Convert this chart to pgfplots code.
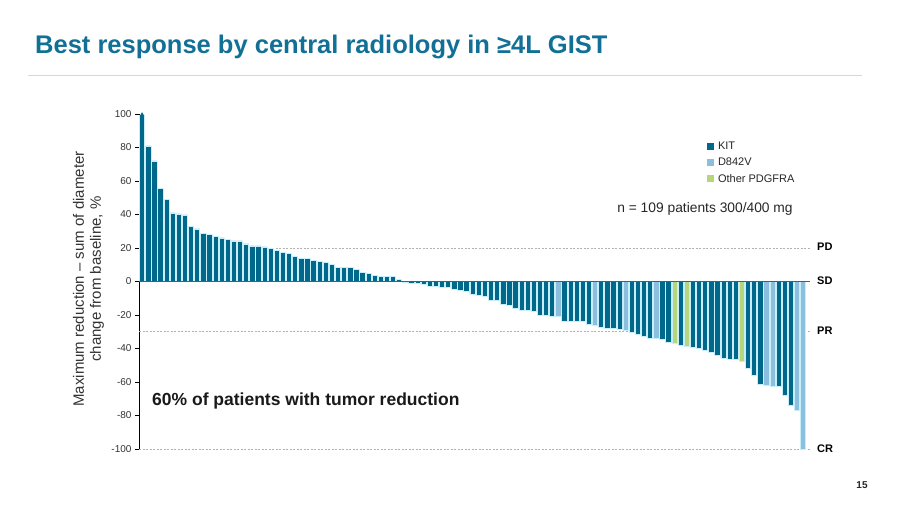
\documentclass[border=0pt]{standalone}
\usepackage{pgfplots}
\usepackage{pgfplotstable}
\pgfplotsset{compat=1.18}
\usepackage{fontspec}
\setmainfont{Liberation Sans}
\definecolor{kit}{RGB}{0,104,139}
\definecolor{dvc}{RGB}{140,190,222}
\definecolor{oth}{RGB}{181,214,122}
\definecolor{edge}{RGB}{200,238,252}
\definecolor{titlec}{RGB}{18,112,150}
\definecolor{sepc}{RGB}{214,228,160}
\pgfplotsset{sqlegend/.style={legend image code/.code={\fill[#1, draw=none] (0pt,-3.5pt) rectangle (7pt,3.5pt); \path[draw=none, fill=none] (0pt,0pt) -- (10pt,0pt);}}}

\pgfplotstableread{
x y
0 99
1 81
2 72
3 55.6
4 48.8
5 41
6 40.4
7 39.8
8 33
9 31.4
10 28.6
11 28.2
12 27
13 26
14 25.2
15 24.2
16 24.2
17 22.4
18 21.2
19 21.2
20 20.6
21 19.8
22 18.4
23 17.6
24 16.8
25 15.2
26 13.6
27 13.6
28 12.8
29 12
30 11.2
31 10
32 8.6
33 8.6
34 8.6
35 7.2
36 5.6
37 5
38 3.6
39 3.2
40 3.2
41 3.2
42 1.4
43 -0.3
44 -0.8
45 -1
46 -1.8
47 -3
48 -3
49 -3.4
50 -3.4
51 -4.4
52 -5.4
53 -5.8
54 -7.4
55 -8
56 -8.8
57 -11
58 -11.4
59 -13.8
60 -14.4
61 -15.8
62 -17
63 -17
64 -18
65 -20
66 -20.4
67 -21
69 -24
70 -24
71 -24
72 -24
73 -25.6
75 -27.4
76 -27.8
77 -27.8
78 -28.4
80 -30.4
81 -31.4
82 -33
83 -34
85 -34.8
86 -36.4
88 -38
90 -39
91 -39.6
92 -40.8
93 -42
94 -44
95 -45.6
96 -46.4
97 -46.4
99 -51.8
100 -55.8
101 -61.4
104 -62.4
105 -68
106 -74
}\kittable

\pgfplotstableread{
x y
68 -21
74 -26.4
79 -29.4
84 -34
102 -61.8
103 -62.4
107 -76.8
108 -100
}\dvtable

\pgfplotstableread{
x y
87 -37
89 -38.8
98 -47.4
}\othtable

\begin{document}
\begin{tikzpicture}[x=1pt,y=1pt]
\path[use as bounding box] (0,0) rectangle (900,506);
% title
\node[anchor=west, text=titlec, font=\fontsize{25.5}{30}\selectfont\bfseries, inner sep=0pt] at (35,459) {Best response by central radiology in ≥4L GIST};
\draw[sepc, line width=1pt] (28,430) -- (862,430);

\begin{axis}[
  at={(139pt,57pt)}, anchor=south west, scale only axis,
  width=671.4pt, height=335pt,
  xmin=-0.5, xmax=109.2, ymin=-100, ymax=100,
  axis x line=none, axis y line*=left, xtick=\empty,
  ytick={-100,-80,...,100},
  tick align=outside, major tick length=4pt,
  y axis line style={black, line width=0.8pt},
  ytick style={black, line width=0.5pt},
  yticklabel style={font=\fontsize{10}{12}\selectfont, text=black!80},
  /pgf/number format/assume math mode=true,
  clip=false,
  legend style={at={(0.845,0.922)}, anchor=north west, draw=none, fill=none,
    font=\fontsize{11}{13}\selectfont, row sep=4pt, inner sep=0pt,
    nodes={inner sep=1.5pt, text=black!85}},
  legend cell align=left,
]
\addplot[forget plot, black!30, dash pattern=on 2pt off 1.5pt, line width=0.7pt] coordinates {(-0.5,20) (109.2,20)};
\addplot[forget plot, black!30, dash pattern=on 2pt off 1.5pt, line width=0.7pt] coordinates {(-0.5,-30) (109.2,-30)};
\addplot[forget plot, black!30, dash pattern=on 2pt off 1.5pt, line width=0.7pt] coordinates {(-0.5,-100) (109.2,-100)};

\addplot[ybar, bar width=5.3pt, bar shift=0pt, fill=kit, draw=edge, line width=0.6pt, sqlegend=kit] table[x=x,y=y] {\kittable};
\addplot[ybar, bar width=5.3pt, bar shift=0pt, fill=dvc, draw=edge, line width=0.6pt, sqlegend=dvc] table[x=x,y=y] {\dvtable};
\addplot[ybar, bar width=5.3pt, bar shift=0pt, fill=oth, draw=edge, line width=0.6pt, sqlegend=oth] table[x=x,y=y] {\othtable};
\legend{KIT, D842V, Other PDGFRA}

\addplot[forget plot, black!65, line width=0.9pt] coordinates {(-0.5,0) (109.2,0)};
\addplot[forget plot, only marks, mark=triangle*, mark size=2.2pt, color=kit] coordinates {(0,99.5)};
\end{axis}

% y label
\node[rotate=90, align=center, font=\fontsize{15}{17}\selectfont, text=black!80] at (88.5,227) {Maximum reduction -- sum of diameter\\change from baseline, \%};
% annotations
\node[anchor=center, font=\fontsize{13.8}{16}\selectfont, text=black!85] at (705,297) {n = 109 patients 300/400 mg};
\node[anchor=west, inner sep=0pt, font=\fontsize{17.5}{20}\selectfont\bfseries, text=black!90] at (152,105) {60\% of patients with tumor reduction};
\node[anchor=west, inner sep=0pt, font=\fontsize{11}{13}\selectfont\bfseries] at (817,259) {PD};
\node[anchor=west, inner sep=0pt, font=\fontsize{11}{13}\selectfont\bfseries] at (817,225) {SD};
\node[anchor=west, inner sep=0pt, font=\fontsize{11}{13}\selectfont\bfseries] at (817,175) {PR};
\node[anchor=west, inner sep=0pt, font=\fontsize{11}{13}\selectfont\bfseries] at (817,57) {CR};
\node[anchor=center, inner sep=0pt, font=\fontsize{10}{12}\selectfont\bfseries, text=black!85] at (862,21) {15};
\end{tikzpicture}
\end{document}
